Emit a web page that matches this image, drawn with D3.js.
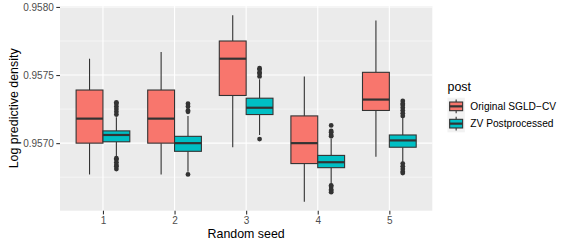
<!DOCTYPE html>
<html>
<head>
<meta charset="utf-8">
<script src="https://cdn.jsdelivr.net/npm/d3@7"></script>
<style>
  html, body { margin: 0; padding: 0; background: #fff; }
  text { font-family: "Liberation Sans", Arial, Helvetica, sans-serif; }
</style>
</head>
<body>
<svg id="chart" width="577" height="247"></svg>
<script>
// ---- data ----
const seeds = ["1", "2", "3", "4", "5"];
const seriesNames = ["Original SGLD\u2212CV", "ZV Postprocessed"];
const seriesColors = ["#F8766D", "#00BFC4"];
const yTicks = [0.9570, 0.9575, 0.9580];
const yMinorTicks = [0.95675, 0.95725, 0.95775];

// [lowerWhisker, Q1, median, Q3, upperWhisker] per seed
const originalStats = [
  [0.95677, 0.95700, 0.95718, 0.95739, 0.95762],
  [0.95677, 0.95700, 0.95718, 0.95739, 0.95767],
  [0.95697, 0.95735, 0.95762, 0.95775, 0.95794],
  [0.95657, 0.95685, 0.95700, 0.95720, 0.95749],
  [0.95690, 0.95724, 0.95732, 0.95752, 0.95790]
];
const zvStats = [
  [0.95690, 0.95701, 0.95706, 0.95709, 0.95719],
  [0.95679, 0.95694, 0.95700, 0.95705, 0.95720],
  [0.95706, 0.95721, 0.95726, 0.95733, 0.95747],
  [0.95670, 0.95682, 0.95686, 0.95691, 0.95703],
  [0.95685, 0.95697, 0.95702, 0.95706, 0.95719]
];
// outliers per seed
const originalOutliers = [[], [], [], [], []];
const zvOutliers = [
  [0.95730, 0.95729, 0.95727, 0.95725, 0.95723, 0.95721, 0.95689, 0.95688, 0.95686, 0.95684, 0.95683, 0.95681],
  [0.95729, 0.95727, 0.95724, 0.95723, 0.95677],
  [0.95755, 0.95754, 0.95752, 0.95751, 0.95749, 0.95703],
  [0.95713, 0.95709, 0.95708, 0.95706, 0.95705, 0.95669, 0.95668, 0.95666, 0.95665, 0.95664],
  [0.95731, 0.95729, 0.95728, 0.95726, 0.95724, 0.95722, 0.95720, 0.95685, 0.95683, 0.95681, 0.95679, 0.95678]
];

// ---- layout ----
const svg = d3.select("#chart");
const panel = { left: 60, right: 432.3, top: 6, bottom: 210.7 };

// ggplot discrete expansion: 0.6 units on each side
const unit = (panel.right - panel.left) / (seeds.length - 1 + 1.2);
const xc = d3.scalePoint().domain(seeds)
  .range([panel.left + 0.6 * unit, panel.right - 0.6 * unit]);
const dodge = d3.scaleBand().domain(seriesNames).range([-0.375 * unit, 0.375 * unit]);

const y = d3.scaleLinear().domain([0.956504, 0.958007]).range([panel.bottom, panel.top]);

// panel background
svg.append("rect")
  .attr("x", panel.left).attr("y", panel.top)
  .attr("width", panel.right - panel.left).attr("height", panel.bottom - panel.top)
  .attr("fill", "#EBEBEB");

// grid lines
const grid = svg.append("g");
grid.selectAll(".ymin").data(yMinorTicks).enter().append("line")
  .attr("x1", panel.left).attr("x2", panel.right)
  .attr("y1", d => y(d)).attr("y2", d => y(d))
  .attr("stroke", "#fff").attr("stroke-width", 0.55);
grid.selectAll(".ymaj").data(yTicks).enter().append("line")
  .attr("x1", panel.left).attr("x2", panel.right)
  .attr("y1", d => y(d)).attr("y2", d => y(d))
  .attr("stroke", "#fff").attr("stroke-width", 1.1);
grid.selectAll(".xmaj").data(seeds).enter().append("line")
  .attr("y1", panel.top).attr("y2", panel.bottom)
  .attr("x1", d => xc(d)).attr("x2", d => xc(d))
  .attr("stroke", "#fff").attr("stroke-width", 1.1);

// boxplots
const groups = [
  { name: seriesNames[0], color: seriesColors[0], stats: originalStats, out: originalOutliers },
  { name: seriesNames[1], color: seriesColors[1], stats: zvStats, out: zvOutliers }
];
const stroke = "#333333";
groups.forEach(g => {
  const gg = svg.append("g");
  seeds.forEach((s, i) => {
    const st = g.stats[i];
    const x0 = xc(s) + dodge(g.name);
    const w = dodge.bandwidth();
    const cx = x0 + w / 2;
    gg.selectAll(null).data(g.out[i]).enter().append("circle")
      .attr("cx", cx).attr("cy", d => y(d)).attr("r", 2.4)
      .attr("fill", stroke);
    gg.append("line").attr("x1", cx).attr("x2", cx)
      .attr("y1", y(st[3])).attr("y2", y(st[4]))
      .attr("stroke", stroke).attr("stroke-width", 1.1);
    gg.append("line").attr("x1", cx).attr("x2", cx)
      .attr("y1", y(st[1])).attr("y2", y(st[0]))
      .attr("stroke", stroke).attr("stroke-width", 1.1);
    gg.append("rect").attr("x", x0).attr("width", w)
      .attr("y", y(st[3])).attr("height", y(st[1]) - y(st[3]))
      .attr("fill", g.color).attr("stroke", stroke).attr("stroke-width", 1.1);
    gg.append("line").attr("x1", x0).attr("x2", x0 + w)
      .attr("y1", y(st[2])).attr("y2", y(st[2]))
      .attr("stroke", stroke).attr("stroke-width", 2.2);
  });
});

// axes
const yAxis = d3.axisLeft(y).tickValues(yTicks).tickFormat(d3.format(".4f")).tickSize(3.7).tickPadding(2.5);
const ya = svg.append("g").attr("transform", `translate(${panel.left},0)`).call(yAxis);
const xAxis = d3.axisBottom(xc).tickSize(3.7).tickPadding(2.5);
const xa = svg.append("g").attr("transform", `translate(0,${panel.bottom})`).call(xAxis);
[ya, xa].forEach(a => {
  a.select(".domain").remove();
  a.selectAll(".tick line").attr("stroke", "#333333").attr("stroke-width", 1.1);
  a.selectAll(".tick text").attr("fill", "#4D4D4D").style("font-size", "10px")
    .style("font-family", "'Liberation Sans', Arial, sans-serif");
});

// axis titles
svg.append("text")
  .attr("x", (panel.left + panel.right) / 2).attr("y", 238)
  .attr("text-anchor", "middle").style("font-size", "12.4px").attr("fill", "#000")
  .text("Random seed");
svg.append("text")
  .attr("transform", `translate(18,${(panel.top + panel.bottom) / 2}) rotate(-90)`)
  .attr("text-anchor", "middle").style("font-size", "12.4px").attr("fill", "#000")
  .text("Log predictive density");

// legend
const legend = svg.append("g").attr("transform", "translate(447.5,0)");
legend.append("text").attr("x", 0).attr("y", 91).style("font-size", "12.4px").text("post");
const ks = 17.3;
groups.forEach((g, i) => {
  const ky = 97.7 + i * ks;
  const k = legend.append("g").attr("transform", `translate(0,${ky})`);
  k.append("rect").attr("width", ks).attr("height", ks).attr("fill", "#F2F2F2");
  k.append("line").attr("x1", ks / 2).attr("x2", ks / 2).attr("y1", ks * 0.1).attr("y2", ks * 0.25)
    .attr("stroke", stroke).attr("stroke-width", 1.1);
  k.append("line").attr("x1", ks / 2).attr("x2", ks / 2).attr("y1", ks * 0.75).attr("y2", ks * 0.9)
    .attr("stroke", stroke).attr("stroke-width", 1.1);
  k.append("rect").attr("x", ks * 0.125).attr("y", ks * 0.25)
    .attr("width", ks * 0.75).attr("height", ks * 0.5)
    .attr("fill", g.color).attr("stroke", stroke).attr("stroke-width", 1.1);
  k.append("line").attr("x1", ks * 0.125).attr("x2", ks * 0.875).attr("y1", ks / 2).attr("y2", ks / 2)
    .attr("stroke", stroke).attr("stroke-width", 2.2);
  legend.append("text").attr("x", ks + 5.5).attr("y", ky + ks / 2)
    .attr("dominant-baseline", "central").style("font-size", "10.2px").attr("fill", "#000")
    .text(g.name);
});
</script>
</body>
</html>
